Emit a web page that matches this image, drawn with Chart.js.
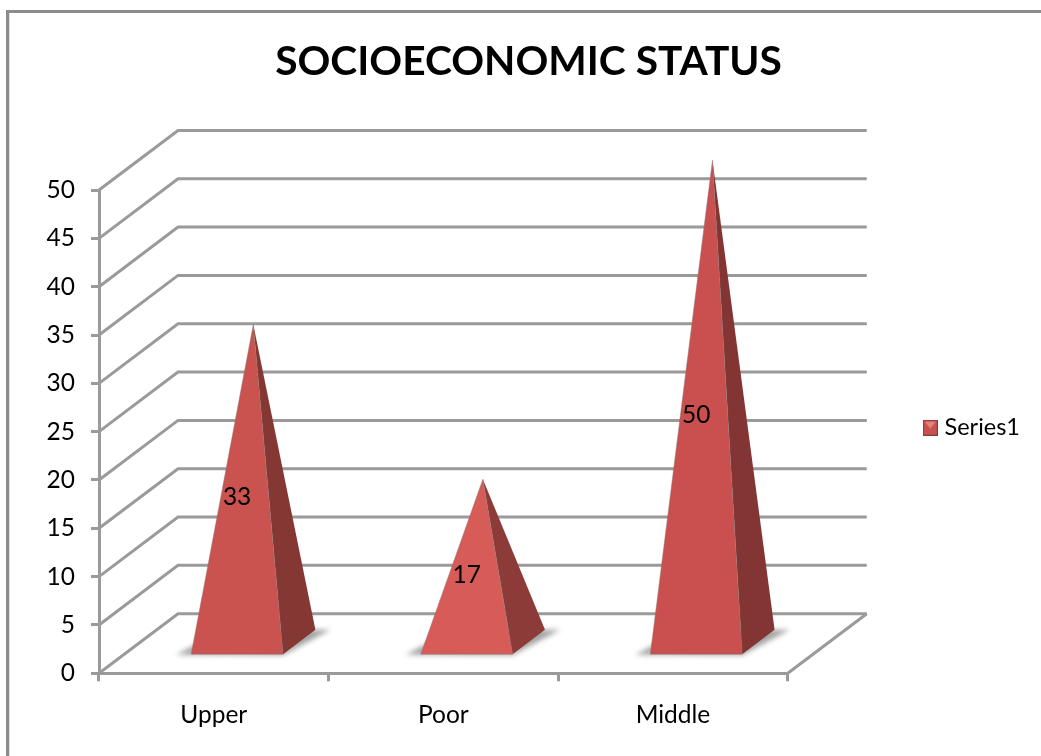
<!DOCTYPE html>
<html>
<head>
<meta charset="utf-8">
<title>Socioeconomic status</title>
<script src="https://cdn.jsdelivr.net/npm/chart.js@4/dist/chart.umd.js"></script>
<style>
    html, body { margin: 0; padding: 0; background: #fff; }
    #box { width: 1041px; height: 756px; }
</style>
</head>
<body>
<div id="box"><canvas id="statusChart"></canvas></div>
<script>
const categories = ["Upper", "Poor", "Middle"];
const seriesValues = [33, 17, 50];
const frontColors = ["#ca524f", "#d75b57", "#c9504e"];
const sideColors = ["#843733", "#8c3b38", "#823532"];

const LABEL_FONT = { family: "Lato", size: 24.5 };
const GRID_COLOR = "#9a9a9a";

// how far the back wall sits from the front of the floor
const WALL_DX = 79;
const WALL_DY = -59.6;
const DEPTH_RATIO = 0.41;

// small legend key, a pyramid seen from above
function makeLegendKey() {
    const key = document.createElement("canvas");
    key.width = 15;
    key.height = 16;
    const c = key.getContext("2d");
    c.fillStyle = "#8a3a37";
    c.fillRect(0, 0, 15, 16);
    c.fillStyle = "#c6524f";
    c.fillRect(1, 1, 13, 14);
    c.fillStyle = "#e8807c";
    c.beginPath();
    c.moveTo(2, 2);
    c.lineTo(13, 2);
    c.lineTo(7.5, 9);
    c.closePath();
    c.fill();
    return key;
}

// bars drawn as pyramids standing on the floor, sized by the bar elements
class PyramidController extends Chart.BarController {
    static id = "pyramid";
    static defaults = Chart.BarController.defaults;
    static overrides = Chart.BarController.overrides;

    draw() {
        const ctx = this.chart.ctx;
        const depthX = WALL_DX * DEPTH_RATIO;
        const depthY = WALL_DY * DEPTH_RATIO;

        this.getMeta().data.forEach((bar, i) => {
            const cx = bar.x + WALL_DX / 2;
            const cy = bar.base + WALL_DY / 2;
            const half = bar.width / 2;
            const left = cx - half - depthX / 2;
            const right = cx + half - depthX / 2;
            const frontY = cy - depthY / 2;
            const backX = right + depthX;
            const backY = frontY + depthY;
            const apexY = cy - (bar.base - bar.y);

            ctx.save();

            // soft shadow on the floor
            ctx.filter = "blur(2.5px)";
            ctx.fillStyle = "rgba(90, 90, 90, 0.55)";
            ctx.beginPath();
            ctx.moveTo(left - 15, frontY + 0.5);
            ctx.lineTo(right, frontY + 1);
            ctx.lineTo(backX + 15, backY);
            ctx.lineTo(left + depthX, backY);
            ctx.closePath();
            ctx.fill();
            ctx.filter = "none";

            // right face
            ctx.fillStyle = sideColors[i];
            ctx.beginPath();
            ctx.moveTo(right, frontY);
            ctx.lineTo(backX, backY);
            ctx.lineTo(cx, apexY);
            ctx.closePath();
            ctx.fill();

            // front face
            ctx.fillStyle = frontColors[i];
            ctx.strokeStyle = "rgba(130, 120, 120, 0.45)";
            ctx.lineWidth = 1;
            ctx.beginPath();
            ctx.moveTo(left, frontY);
            ctx.lineTo(right, frontY);
            ctx.lineTo(cx, apexY);
            ctx.closePath();
            ctx.fill();
            ctx.stroke();

            // value label in the middle of the front face
            ctx.fillStyle = "#000";
            ctx.font = LABEL_FONT.size + "px " + LABEL_FONT.family;
            ctx.textAlign = "center";
            ctx.textBaseline = "middle";
            ctx.fillText(String(seriesValues[i]), bar.x + WALL_DX / 2 - depthX / 2, frontY - (bar.base - bar.y) / 2 + 2);

            ctx.restore();
        });
    }
}
Chart.register(PyramidController);

// outer frame, back wall lines and floor
const wallPlugin = {
    id: "wall",
    afterLayout(chart) {
        // legend sits a little above the middle of the plot
        chart.legend.top -= 4;
        chart.legend.bottom -= 4;
    },
    beforeDraw(chart) {
        const ctx = chart.ctx;
        ctx.save();
        ctx.fillStyle = "#8c8c8c";
        ctx.fillRect(6, 10, 1035, 3);
        ctx.fillRect(6, 10, 3, 746);
        ctx.fillStyle = "#dedede";
        ctx.fillRect(9, 13, 1, 743);
        ctx.restore();
    },
    beforeDatasetsDraw(chart) {
        const ctx = chart.ctx;
        const yScale = chart.scales.y;
        const area = chart.chartArea;

        ctx.save();
        ctx.strokeStyle = GRID_COLOR;
        ctx.lineWidth = 3;
        yScale.ticks.forEach(tick => {
            const y = yScale.getPixelForValue(tick.value);
            ctx.beginPath();
            ctx.moveTo(area.left, y);
            ctx.lineTo(area.left + WALL_DX, y + WALL_DY);
            ctx.lineTo(area.right + WALL_DX, y + WALL_DY);
            ctx.stroke();
        });

        const zero = yScale.getPixelForValue(0);
        ctx.beginPath();
        ctx.moveTo(area.right, zero);
        ctx.lineTo(area.right + WALL_DX, zero + WALL_DY);
        ctx.stroke();
        ctx.restore();
    }
};

const statusChart = new Chart(document.getElementById("statusChart"), {
    type: "pyramid",

    data: {
        labels: categories,
        datasets: [{
            label: "Series1",
            data: seriesValues,
            backgroundColor: frontColors,
            barPercentage: 1,
            categoryPercentage: 0.4,
            clip: false
        }]
    },

    plugins: [wallPlugin],

    options: {
        responsive: true,
        maintainAspectRatio: false,
        animation: false,
        layout: {
            padding: { left: 27, top: 0, right: 11, bottom: 0 }
        },
        scales: {
            x: {
                afterFit: scale => { scale.height = 82.7; },
                grid: {
                    offset: true,
                    drawOnChartArea: false,
                    color: GRID_COLOR,
                    lineWidth: 3,
                    tickLength: 8
                },
                border: { color: GRID_COLOR, width: 3 },
                ticks: { color: "#000", font: LABEL_FONT, padding: 19, maxRotation: 0 }
            },
            y: {
                min: 0,
                max: 50,
                afterFit: scale => { scale.width = 72; },
                grid: {
                    drawOnChartArea: false,
                    color: GRID_COLOR,
                    lineWidth: 3,
                    tickLength: 8
                },
                border: { color: GRID_COLOR, width: 3 },
                ticks: { color: "#000", font: LABEL_FONT, padding: 16, stepSize: 5 }
            },
            // empty axis, keeps the space the depth of the floor runs into
            gap: {
                type: "linear",
                axis: "y",
                position: "right",
                afterFit: scale => { scale.width = 107; },
                grid: { display: false },
                border: { display: false },
                ticks: { display: false }
            }
        },
        plugins: {
            title: {
                display: true,
                text: "SOCIOECONOMIC STATUS",
                color: "#000",
                font: { family: "Lato", size: 40.7, weight: "bold", lineHeight: 1.2 },
                padding: { top: 37.6, bottom: 103.6 }
            },
            legend: {
                position: "right",
                fullSize: false,
                labels: {
                    color: "#000",
                    font: { family: "Lato", size: 23.5 },
                    usePointStyle: true,
                    pointStyle: makeLegendKey(),
                    pointStyleWidth: 5,
                    padding: 33
                }
            },
            tooltip: { enabled: false }
        }
    }
});
</script>
</body>
</html>
